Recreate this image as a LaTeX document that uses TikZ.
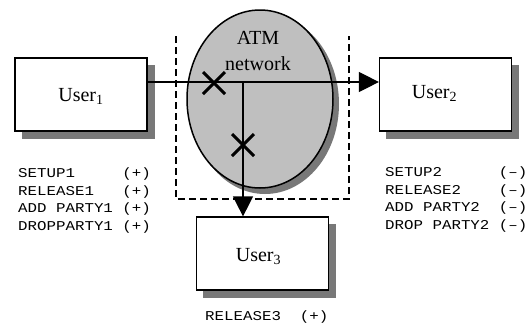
\documentclass[tikz,border=0pt]{standalone}
\usepackage{fontspec}
\setmainfont{Liberation Serif}
\setmonofont{Liberation Mono}[FakeStretch=1.17]
\usepackage{tikz}
\usetikzlibrary{shapes.geometric,shapes.misc,arrows.meta}
\tikzstyle{arrow} = [line width=1.2pt,-{Triangle[length=20pt,width=20pt]}]
\definecolor{shadowgray}{RGB}{120,120,120}

\begin{document}
\begin{tikzpicture}
[x=1pt,y=-1pt,
userbox/.style={rectangle,draw=black,line width=1.2pt,fill=white,minimum width=132pt,minimum height=73pt},
shadowbox/.style={rectangle,fill=shadowgray,minimum width=133pt,minimum height=74pt},
usertext/.style={font=\fontsize{20}{26}\selectfont,inner sep=0pt},
msgtext/.style={anchor=base west,inner sep=0pt,font=\ttfamily\fontsize{13.5}{15}\selectfont},
xmark/.style={draw=black,cross out,line width=3pt,minimum size=19pt,inner sep=0pt}]
\fill[white] (0,0) rectangle (528,325);

% shadows first
\node[ellipse,fill=shadowgray,minimum width=148pt,minimum height=180pt,inner sep=0pt] (netshadow) at (265,104) {};
\node[shadowbox] (s1) at (88,101.5) {};
\node[shadowbox] (s2) at (452.5,101.5) {};
\node[shadowbox] (s3) at (269.5,260.5) {};

% network cloud and its border
\node[ellipse,draw=black,line width=1.5pt,fill=gray!50,minimum width=146pt,minimum height=178pt,inner sep=0pt] (net) at (260,99) {};
\node[usertext,align=center] (nettext) at (258,50.5) {ATM\\network};
\draw[line width=1.3pt,dash pattern=on 7pt off 4pt] (176,36) -- (176,199) -- (349,199) -- (349,36);

% users
\node[userbox] (u1) at (81,94.5) {};
\node[userbox] (u2) at (445.5,94.5) {};
\node[userbox] (u3) at (262.5,253.5) {};
\node[usertext] (t1) at ([yshift=-2pt]u1.center) {User\textsubscript{1}};
\node[usertext] (t2) at ([xshift=-11pt,yshift=1pt]u2.center) {User\textsubscript{2}};
\node[usertext] (t3) at ([xshift=-4pt,yshift=-3pt]u3.center) {User\textsubscript{3}};

% connections
\coordinate (split) at (243,82);
\draw[arrow] ([yshift=12.5pt]u1.east) -- ([yshift=12.5pt]u2.west);
\draw[arrow] (split) -- (split |- u3.north);
\node[xmark] (cut1) at (214,83) {};
\node[xmark] (cut2) at (243,145) {};

% messages
\foreach \msg [count=\i] in {SETUP1~~~~~(+), RELEASE1~~~(+), ADD~PARTY1~(+), DROPPARTY1~(+)}
  \node[msgtext] (left\i) at (18,{177.5+17.7*(\i-1)}) {\msg};
\foreach \msg [count=\i] in {SETUP2~~~~~~(–), RELEASE2~~~~(–), ADD~PARTY2~~(–), DROP~PARTY2~(–)}
  \node[msgtext] (right\i) at (385,{176.5+17.7*(\i-1)}) {\msg};
\node[msgtext] (bottom1) at (205,320) {RELEASE3~~(+)};
\end{tikzpicture}
\end{document}
